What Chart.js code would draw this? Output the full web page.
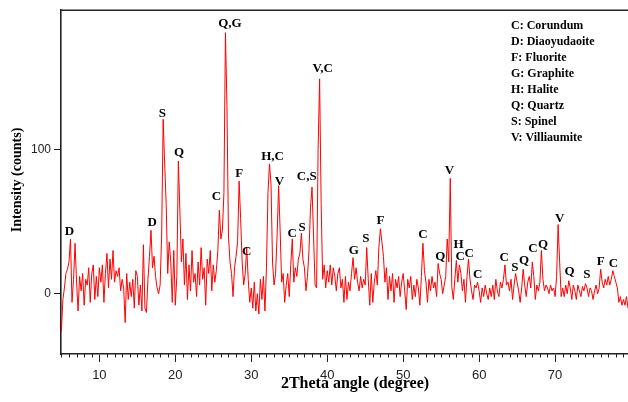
<!DOCTYPE html>
<html>
<head>
<meta charset="utf-8">
<title>XRD pattern</title>
<script src="https://cdn.jsdelivr.net/npm/chart.js@4.4.1/dist/chart.umd.min.js"></script>
<style>
  html, body { margin: 0; padding: 0; background: #fff; }
  #wrap { width: 628px; height: 402px; }
</style>
</head>
<body>
<div id="wrap"><canvas id="xrd" width="628" height="402"></canvas></div>
<script>
// Scan runs 5.0 -> 79.6 deg 2theta, one reading every 0.2 deg
const SCAN_START = 5.0;
const SCAN_STEP = 0.2;

// intensity (counts), ten readings per row = 2 deg per row
const counts = [
  -26, -4, 4, 14, 17, 22, 38, -6, 10, 35,      // 5.0
  8, -12, 12, 2, 14, -8, 10, 6, 18, -6,        // 7.0
  14, 20, -4, 12, -2, 18, 8, 20, -6, 14,       // 9.0
  28, 4, 24, 10, 30, 8, 16, 12, 18, 2,         // 11.0
  10, 4, -20, 14, -4, 8, -2, 10, -10, 16,      // 13.0
  12, -8, 6, -12, 34, -10, -13, 10, 26, 44,    // 15.0
  18, 26, 12, 4, 0, 6, 40, 121, 90, 62,        // 17.0
  14, 36, 22, -6, 30, -8, 12, 92, 58, 22,      // 19.0
  38, 6, 28, -4, 20, 2, 30, 8, 14, -2,         // 21.0
  22, 6, 32, 10, 18, -8, 24, 14, 30, 2,        // 23.0
  20, 8, 16, 30, 58, 38, 44, 70, 181, 130,     // 25.0
  40, 22, 14, -2, 18, 26, 36, 78, 52, 22,      // 27.0
  6, 14, 32, 10, -6, 4, -10, 8, -12, 0,        // 29.0
  -14, 10, -4, 12, -12, 18, 70, 90, 76, 22,    // 31.0
  6, 14, 40, 75, 44, 8, 14, -6, 6, 14,         // 33.0
  -2, 20, 38, 8, 18, 12, 24, 28, 42, 24,       // 35.0
  18, 2, 12, 30, 60, 74, 40, 6, 4, 100,        // 37.0
  149, 62, 10, 20, 4, 16, 8, 20, 6, 18,        // 39.0
  12, 2, 14, 18, 4, 10, -6, 12, -4, 8,         // 41.0
  2, 14, 25, 10, 18, 8, 2, 12, 4, 10,          // 43.0
  6, 32, 10, -8, 14, -6, 8, 16, 6, 32,         // 45.0
  45, 36, 26, 8, 18, -4, 12, 2, 14, -6,        // 47.0
  10, 4, 12, -2, 8, 14, 2, -11, 10, 4,         // 49.0
  12, -4, 6, -2, 10, 4, -8, 12, 35, 16,        // 51.0
  8, -6, 10, 2, 12, 4, 8, -2, 21, 14,          // 53.0
  10, 0, 6, 12, 38, 22, 80, 5, -4, 10,         // 55.0
  23, 8, 20, 14, 2, 10, -6, 12, 24, 10,        // 57.0
  2, -4, 6, 4, 8, 2, -6, 4, -2, 6,             // 59.0
  0, -4, 4, -2, 6, -4, 10, 2, -2, 8,           // 61.0
  4, 10, 20, 6, 8, 2, 10, -4, 6, 14,           // 63.0
  8, 2, -6, 4, 17, 6, -2, 8, 12, 4,            // 65.0
  22, 12, -4, 6, 2, 8, 30, 10, 2, 6,           // 67.0
  4, 0, 6, 2, 4, -2, 12, 48, 22, -2,           // 69.0
  4, -2, 6, 0, 9, 4, -4, 6, 2, -4,             // 71.0
  6, 2, -2, 5, 2, 7, 4, -2, 4, 2,              // 73.0
  -4, 2, 6, 0, 4, 17, 8, 4, 10, 6,             // 75.0
  12, 6, 10, 16, 12, 8, 4, -6, -2, -8,         // 77.0
  -4, -8, -2, -10                              // 79.0
];

// phase letters and where they sit (2theta, counts)
const peakText  = ['D', 'D', 'S', 'Q', 'C', 'Q,G', 'F', 'C', 'H,C', 'V', 'C', 'S', 'C,S', 'V,C',
                   'G', 'S', 'F', 'C', 'Q', 'V', 'H', 'C', 'C', 'C', 'C', 'S', 'Q', 'C', 'Q',
                   'V', 'Q', 'S', 'F', 'C'];
const peakAngle = [6.05, 16.97, 18.3, 20.5, 25.4, 27.2, 28.4, 29.4, 32.8, 33.7, 35.4, 36.7, 37.3, 39.4,
                   43.5, 45.1, 47.0, 52.6, 54.9, 56.1, 57.3, 57.5, 58.7, 59.8, 63.3, 64.7, 65.9, 67.1, 68.4,
                   70.6, 71.9, 74.2, 76.0, 77.7];
const peakCount = [43, 49, 125, 98, 67, 187, 83, 29, 95, 78, 42, 46, 81, 156,
                   30, 38, 51, 41, 26, 85, 34, 26, 28, 13, 25, 18, 23, 31, 34,
                   52, 15, 13, 22, 21];

const phases = ['C: Corundum', 'D: Diaoyudaoite', 'F: Fluorite', 'G: Graphite',
                'H: Halite', 'Q: Quartz', 'S: Spinel', 'V: Villiaumite'];

const xTicks = [10, 20, 30, 40, 50, 60, 70];
const yTicks = [0, 100];

const points = counts.map((c, i) => ({ x: +(SCAN_START + i * SCAN_STEP).toFixed(1), y: c }));

const SERIF = '"Liberation Serif", "Times New Roman", serif';
const SANS = '"Liberation Sans", Arial, sans-serif';
const AXIS = '#222';

// frame top line, minor ticks, peak letters, phase key and axis titles
const overlay = {
  id: 'overlay',
  afterDraw(chart) {
    const { ctx, chartArea: a, scales: { x, y } } = chart;
    ctx.save();
    ctx.strokeStyle = AXIS;
    ctx.lineWidth = 1.6;
    ctx.beginPath();
    ctx.moveTo(a.left - 0.8, a.top);
    ctx.lineTo(a.right, a.top);
    ctx.stroke();

    ctx.lineWidth = 1;
    for (let d = Math.ceil(x.min); d <= x.max; d++) {
      if (d % 10 === 0) continue;
      const px = Math.round(x.getPixelForValue(d)) + 0.5;
      ctx.beginPath();
      ctx.moveTo(px, a.bottom);
      ctx.lineTo(px, a.bottom + 3.5);
      ctx.stroke();
    }

    ctx.fillStyle = '#000';
    ctx.textAlign = 'center';
    ctx.textBaseline = 'middle';
    ctx.font = 'bold 13px ' + SERIF;
    peakText.forEach((t, i) => {
      ctx.fillText(t, x.getPixelForValue(peakAngle[i]), y.getPixelForValue(peakCount[i]));
    });

    ctx.textAlign = 'left';
    ctx.font = 'bold 12px ' + SERIF;
    phases.forEach((p, i) => ctx.fillText(p, 511, 26 + i * 16));

    ctx.textAlign = 'center';
    ctx.font = 'bold 16px ' + SERIF;
    ctx.fillText('2Theta angle (degree)', 355, 384);

    ctx.translate(17, 180);
    ctx.rotate(-Math.PI / 2);
    ctx.font = 'bold 14px ' + SERIF;
    ctx.fillText('Intensity (counts)', 0, 0);
    ctx.restore();
  }
};

new Chart(document.getElementById('xrd'), {
  type: 'line',
  data: {
    datasets: [{
      data: points,
      borderColor: '#ff0000',
      borderWidth: 1,
      pointRadius: 0,
      tension: 0,
      fill: false
    }]
  },
  options: {
    responsive: false,
    devicePixelRatio: 1,
    animation: false,
    layout: { padding: { top: 10, right: 0, bottom: 0, left: 0 } },
    plugins: { legend: { display: false }, tooltip: { enabled: false } },
    scales: {
      x: {
        type: 'linear',
        min: 4.95,
        max: 79.6,
        afterBuildTicks: s => { s.ticks = xTicks.map(v => ({ value: v })); },
        afterFit: s => { s.height = 48; },
        border: { display: true, color: AXIS, width: 1.6 },
        grid: { drawOnChartArea: false, drawTicks: true, tickLength: 8, tickColor: AXIS, tickWidth: 1 },
        ticks: { color: '#222', font: { family: SANS, size: 13 }, padding: 6, maxRotation: 0 }
      },
      y: {
        type: 'linear',
        min: -41.8,
        max: 196.6,
        afterBuildTicks: s => { s.ticks = yTicks.map(v => ({ value: v })); },
        afterFit: s => { s.width = 61; },
        border: { display: true, color: AXIS, width: 1.6 },
        grid: { drawOnChartArea: false, drawTicks: true, tickLength: 7, tickColor: AXIS, tickWidth: 1 },
        ticks: { color: '#222', font: { family: SANS, size: 12 }, padding: 3 }
      }
    }
  },
  plugins: [overlay]
});
</script>
</body>
</html>
